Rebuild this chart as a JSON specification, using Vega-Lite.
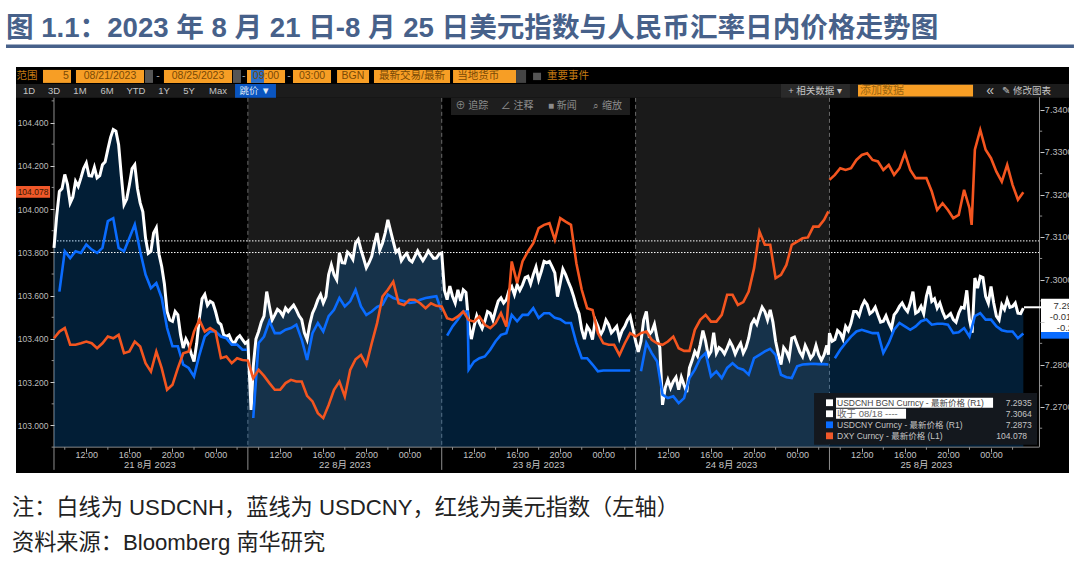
{"$schema":"https://vega.github.io/schema/vega-lite/v6.json","width":1053,"height":406,"autosize":"none","padding":{"left":16,"top":67,"right":11,"bottom":92},"background":"white","config":{"view":{"fill":"#000000","stroke":null},"font":"Liberation Sans, Noto Sans CJK SC","text":{"font":"Liberation Sans, Noto Sans CJK SC"}},"title":{"text":"图 1.1：2023 年 8 月 21 日-8 月 25 日美元指数与人民币汇率日内价格走势图","anchor":"start","frame":"group","dx":-10,"offset":2,"fontSize":27.6,"font":"Liberation Sans, Noto Sans CJK SC","fontWeight":"bold","color":"#47618a"},"data":{"values":[{"k":1}]},"datasets":{"days":[{"start":18,"end":36},{"start":54,"end":72}],"seps":[{"t":18},{"t":36},{"t":54},{"t":72}],"bounds":[{"t":0},{"t":18},{"t":36},{"t":54},{"t":72}],"dates":[{"t":8.9,"label":"21 8月 2023"},{"t":27,"label":"22 8月 2023"},{"t":45,"label":"23 8月 2023"},{"t":62.9,"label":"24 8月 2023"},{"t":81,"label":"25 8月 2023"}],"minorX":[{"t":1},{"t":5},{"t":9},{"t":13},{"t":17},{"t":19},{"t":23},{"t":27},{"t":31},{"t":35},{"t":37},{"t":41},{"t":45},{"t":49},{"t":53},{"t":55},{"t":59},{"t":63},{"t":67},{"t":71},{"t":73},{"t":77},{"t":81},{"t":85},{"t":89}],"minorL":[{"v":102.9},{"v":103.1},{"v":103.3},{"v":103.5},{"v":103.7},{"v":103.9},{"v":104.1},{"v":104.3},{"v":104.5}],"minorR":[{"v":7.265},{"v":7.275},{"v":7.285},{"v":7.295},{"v":7.305},{"v":7.315},{"v":7.325},{"v":7.335}],"rlabels":[{"v":7.34,"label":"7.3400"},{"v":7.33,"label":"7.3300"},{"v":7.32,"label":"7.3200"},{"v":7.31,"label":"7.3100"},{"v":7.3,"label":"7.3000"},{"v":7.28,"label":"7.2800"},{"v":7.27,"label":"7.2700"}],
"cnh":[{"t":0,"v":7.3075},{"t":0.5,"v":7.3208},{"t":1,"v":7.3248},{"t":1.5,"v":7.3181},{"t":2,"v":7.3232},{"t":2.5,"v":7.324},{"t":3,"v":7.3275},{"t":3.5,"v":7.3244},{"t":4,"v":7.324},{"t":4.5,"v":7.3271},{"t":5,"v":7.3307},{"t":5.5,"v":7.3354},{"t":6,"v":7.3318},{"t":6.5,"v":7.3177},{"t":7,"v":7.3224},{"t":7.5,"v":7.3271},{"t":8,"v":7.3181},{"t":8.5,"v":7.3098},{"t":9,"v":7.3067},{"t":9.5,"v":7.3122},{"t":10,"v":7.3031},{"t":10.5,"v":7.2925},{"t":11,"v":7.2902},{"t":11.5,"v":7.2917},{"t":12,"v":7.2839},{"t":12.5,"v":7.2847},{"t":13,"v":7.2807},{"t":13.5,"v":7.291},{"t":14,"v":7.2965},{"t":14.5,"v":7.2949},{"t":15,"v":7.2925},{"t":15.5,"v":7.2894},{"t":16,"v":7.2866},{"t":16.5,"v":7.2855},{"t":17,"v":7.2862},{"t":17.5,"v":7.2859},{"t":18,"v":7.2855},{"t":18.3,"v":7.2693},{"t":18.5,"v":7.2796},{"t":19,"v":7.2878},{"t":19.5,"v":7.2914},{"t":20,"v":7.2937},{"t":20.5,"v":7.2917},{"t":21,"v":7.2925},{"t":21.5,"v":7.2933},{"t":22,"v":7.2933},{"t":22.5,"v":7.2929},{"t":23,"v":7.2906},{"t":23.5,"v":7.2859},{"t":24,"v":7.2921},{"t":24.5,"v":7.2953},{"t":25,"v":7.2945},{"t":25.5,"v":7.3012},{"t":26,"v":7.3012},{"t":26.5,"v":7.3063},{"t":27,"v":7.3039},{"t":27.5,"v":7.3059},{"t":28,"v":7.3086},{"t":28.5,"v":7.3071},{"t":29,"v":7.3028},{"t":29.5,"v":7.3055},{"t":30,"v":7.311},{"t":30.5,"v":7.3086},{"t":31,"v":7.3141},{"t":31.5,"v":7.309},{"t":32,"v":7.3071},{"t":32.5,"v":7.3055},{"t":33,"v":7.3047},{"t":33.5,"v":7.3055},{"t":34,"v":7.3055},{"t":34.5,"v":7.3055},{"t":35,"v":7.3059},{"t":35.5,"v":7.3051},{"t":36,"v":7.3063},{"t":36.5,"v":7.2953},{"t":37,"v":7.2961},{"t":37.5,"v":7.2976},{"t":38,"v":7.2976},{"t":38.5,"v":7.2898},{"t":39,"v":7.289},{"t":39.5,"v":7.2898},{"t":40,"v":7.2902},{"t":40.5,"v":7.2921},{"t":41,"v":7.2929},{"t":41.5,"v":7.2957},{"t":42,"v":7.2953},{"t":42.5,"v":7.2984},{"t":43,"v":7.2988},{"t":43.5,"v":7.2988},{"t":44,"v":7.3008},{"t":44.5,"v":7.3012},{"t":45,"v":7.3},{"t":45.5,"v":7.3043},{"t":46,"v":7.3043},{"t":46.5,"v":7.3016},{"t":47,"v":7.2992},{"t":47.5,"v":7.3012},{"t":48,"v":7.298},{"t":48.5,"v":7.2937},{"t":49,"v":7.2882},{"t":49.5,"v":7.289},{"t":50,"v":7.2859},{"t":50.5,"v":7.289},{"t":51,"v":7.2882},{"t":51.5,"v":7.2894},{"t":52,"v":7.2882},{"t":52.5,"v":7.2862},{"t":53,"v":7.289},{"t":53.5,"v":7.2914},{"t":54,"v":7.2855},{"t":54.5,"v":7.2855},{"t":55,"v":7.2925},{"t":55.5,"v":7.2878},{"t":56,"v":7.2862},{"t":56.5,"v":7.2705},{"t":57,"v":7.2764},{"t":57.5,"v":7.276},{"t":58,"v":7.2741},{"t":58.5,"v":7.2752},{"t":59,"v":7.2792},{"t":59.5,"v":7.2831},{"t":60,"v":7.2847},{"t":60.5,"v":7.2855},{"t":61,"v":7.2831},{"t":61.5,"v":7.2827},{"t":62,"v":7.2835},{"t":62.5,"v":7.2839},{"t":63,"v":7.2843},{"t":63.5,"v":7.2839},{"t":64,"v":7.2827},{"t":64.5,"v":7.2862},{"t":65,"v":7.2906},{"t":65.5,"v":7.2917},{"t":66,"v":7.2925},{"t":66.5,"v":7.2929},{"t":67,"v":7.2855},{"t":67.5,"v":7.28},{"t":68,"v":7.2831},{"t":68.5,"v":7.2862},{"t":69,"v":7.2847},{"t":69.5,"v":7.2819},{"t":70,"v":7.2831},{"t":70.5,"v":7.2823},{"t":71,"v":7.2823},{"t":71.5,"v":7.2823},{"t":71.9,"v":7.2823},{"t":72,"v":7.2874},{"t":72.5,"v":7.2859},{"t":73,"v":7.2874},{"t":73.5,"v":7.289},{"t":74,"v":7.2898},{"t":74.5,"v":7.2925},{"t":75,"v":7.2937},{"t":75.5,"v":7.2941},{"t":76,"v":7.2925},{"t":76.5,"v":7.2917},{"t":77,"v":7.2902},{"t":77.5,"v":7.2898},{"t":78,"v":7.2917},{"t":78.5,"v":7.2937},{"t":79,"v":7.2933},{"t":79.5,"v":7.2945},{"t":80,"v":7.2921},{"t":80.5,"v":7.2937},{"t":81,"v":7.2961},{"t":81.5,"v":7.2949},{"t":82,"v":7.2933},{"t":82.5,"v":7.2925},{"t":83,"v":7.2914},{"t":83.5,"v":7.2906},{"t":84,"v":7.2921},{"t":84.5,"v":7.2933},{"t":85,"v":7.2906},{"t":85.5,"v":7.3004},{"t":86,"v":7.3008},{"t":86.5,"v":7.2961},{"t":87,"v":7.2984},{"t":87.5,"v":7.2914},{"t":88,"v":7.2941},{"t":88.5,"v":7.2953},{"t":89,"v":7.2937},{"t":89.5,"v":7.2921},{"t":90,"v":7.2933},
{"t":0.25,"v":7.315},{"t":0.75,"v":7.3215},{"t":1.25,"v":7.3225},{"t":1.75,"v":7.3195},{"t":2.25,"v":7.322},{"t":2.75,"v":7.3262},{"t":3.25,"v":7.3245},{"t":3.75,"v":7.3265},{"t":4.25,"v":7.3245},{"t":4.75,"v":7.3278},{"t":5.25,"v":7.3335},{"t":5.75,"v":7.335},{"t":6.25,"v":7.3245},{"t":6.75,"v":7.319},{"t":7.25,"v":7.3262},{"t":7.75,"v":7.3215},{"t":8.25,"v":7.316},{"t":8.75,"v":7.3062},{"t":9.25,"v":7.311},{"t":9.75,"v":7.306},{"t":10.25,"v":7.299},{"t":10.75,"v":7.2905},{"t":11.25,"v":7.2925},{"t":11.75,"v":7.287},{"t":12.25,"v":7.286},{"t":12.75,"v":7.2825},{"t":13.25,"v":7.285},{"t":13.75,"v":7.2955},{"t":14.25,"v":7.294},{"t":14.75,"v":7.2945},{"t":15.25,"v":7.29},{"t":15.75,"v":7.287},{"t":16.25,"v":7.287},{"t":16.75,"v":7.285},{"t":17.25,"v":7.2868},{"t":17.75,"v":7.285},{"t":18.75,"v":7.286},{"t":19.25,"v":7.29},{"t":19.75,"v":7.2972},{"t":20.25,"v":7.2905},{"t":20.75,"v":7.293},{"t":21.25,"v":7.2915},{"t":21.75,"v":7.2925},{"t":22.25,"v":7.294},{"t":22.75,"v":7.2915},{"t":23.25,"v":7.2875},{"t":23.75,"v":7.2895},{"t":24.25,"v":7.2935},{"t":24.75,"v":7.2965},{"t":25.25,"v":7.296},{"t":25.75,"v":7.3035},{"t":26.25,"v":7.3},{"t":26.75,"v":7.304},{"t":27.25,"v":7.3065},{"t":27.75,"v":7.3048},{"t":28.25,"v":7.3095},{"t":28.75,"v":7.305},{"t":29.25,"v":7.304},{"t":29.75,"v":7.3085},{"t":30.25,"v":7.307},{"t":30.75,"v":7.311},{"t":31.25,"v":7.3115},{"t":31.75,"v":7.3065},{"t":32.25,"v":7.3045},{"t":32.75,"v":7.3062},{"t":33.25,"v":7.3042},{"t":33.75,"v":7.3068},{"t":34.25,"v":7.3045},{"t":34.75,"v":7.3068},{"t":35.25,"v":7.305},{"t":35.75,"v":7.306},{"t":36.25,"v":7.2975},{"t":36.75,"v":7.2985},{"t":37.25,"v":7.2945},{"t":37.75,"v":7.295},{"t":38.25,"v":7.297},{"t":38.75,"v":7.286},{"t":39.25,"v":7.2915},{"t":39.75,"v":7.2885},{"t":40.25,"v":7.2925},{"t":40.75,"v":7.2905},{"t":41.25,"v":7.295},{"t":41.75,"v":7.2945},{"t":42.25,"v":7.2975},{"t":42.75,"v":7.2965},{"t":43.25,"v":7.2975},{"t":43.75,"v":7.3005},{"t":44.25,"v":7.299},{"t":44.75,"v":7.303},{"t":45.25,"v":7.302},{"t":45.75,"v":7.304},{"t":46.25,"v":7.303},{"t":46.75,"v":7.296},{"t":47.25,"v":7.3025},{"t":47.75,"v":7.2995},{"t":48.25,"v":7.296},{"t":48.75,"v":7.292},{"t":49.25,"v":7.286},{"t":49.75,"v":7.288},{"t":50.25,"v":7.2905},{"t":50.75,"v":7.287},{"t":51.25,"v":7.2905},{"t":51.75,"v":7.2875},{"t":52.25,"v":7.289},{"t":52.75,"v":7.288},{"t":53.25,"v":7.2905},{"t":53.75,"v":7.2885},{"t":54.25,"v":7.283},{"t":54.75,"v":7.2905},{"t":55.25,"v":7.287},{"t":55.75,"v":7.2895},{"t":56.25,"v":7.284},{"t":56.75,"v":7.2745},{"t":57.25,"v":7.2745},{"t":57.75,"v":7.277},{"t":58.25,"v":7.277},{"t":58.75,"v":7.2735},{"t":59.25,"v":7.281},{"t":59.75,"v":7.282},{"t":60.25,"v":7.288},{"t":60.75,"v":7.282},{"t":61.25,"v":7.2875},{"t":61.75,"v":7.284},{"t":62.25,"v":7.2825},{"t":62.75,"v":7.2855},{"t":63.25,"v":7.2825},{"t":63.75,"v":7.285},{"t":64.25,"v":7.284},{"t":64.75,"v":7.2895},{"t":65.25,"v":7.2895},{"t":65.75,"v":7.2935},{"t":66.25,"v":7.2905},{"t":66.75,"v":7.29},{"t":67.25,"v":7.2825},{"t":67.75,"v":7.284},{"t":68.25,"v":7.2815},{"t":68.75,"v":7.2865},{"t":69.25,"v":7.283},{"t":69.75,"v":7.2845},{"t":70.25,"v":7.2815},{"t":70.75,"v":7.2845},{"t":71.25,"v":7.281},{"t":71.75,"v":7.2845},{"t":72.25,"v":7.2855},{"t":72.75,"v":7.288},{"t":73.25,"v":7.286},{"t":73.75,"v":7.288},{"t":74.25,"v":7.2925},{"t":74.75,"v":7.2915},{"t":75.25,"v":7.295},{"t":75.75,"v":7.292},{"t":76.25,"v":7.2935},{"t":76.75,"v":7.29},{"t":77.25,"v":7.2915},{"t":77.75,"v":7.2885},{"t":78.25,"v":7.2925},{"t":78.75,"v":7.2945},{"t":79.25,"v":7.2925},{"t":79.75,"v":7.2972},{"t":80.25,"v":7.2925},{"t":80.75,"v":7.292},{"t":81.25,"v":7.2985},{"t":81.75,"v":7.2955},{"t":82.25,"v":7.2945},{"t":82.75,"v":7.291},{"t":83.25,"v":7.292},{"t":83.75,"v":7.29},{"t":84.25,"v":7.2935},{"t":84.75,"v":7.2975},{"t":85.25,"v":7.2875},{"t":85.75,"v":7.298},{"t":86.25,"v":7.3005},{"t":86.75,"v":7.2945},{"t":87.25,"v":7.2945},{"t":87.75,"v":7.2905},{"t":88.25,"v":7.293},{"t":88.75,"v":7.2935},{"t":89.25,"v":7.2945},{"t":89.75,"v":7.292}],
"cny":[{"t":0.5,"v":7.2972},{"t":1,"v":7.3067},{"t":1.5,"v":7.3051},{"t":2,"v":7.3067},{"t":2.5,"v":7.3063},{"t":3,"v":7.3083},{"t":3.5,"v":7.3071},{"t":4,"v":7.3063},{"t":4.5,"v":7.3075},{"t":5,"v":7.3138},{"t":5.5,"v":7.3145},{"t":6,"v":7.3075},{"t":6.5,"v":7.3067},{"t":7,"v":7.3098},{"t":7.5,"v":7.313},{"t":8,"v":7.3067},{"t":8.5,"v":7.3012},{"t":9,"v":7.298},{"t":9.5,"v":7.2992},{"t":10,"v":7.2957},{"t":10.5,"v":7.2886},{"t":11,"v":7.2843},{"t":11.5,"v":7.2843},{"t":12,"v":7.28},{"t":12.5,"v":7.2792},{"t":13,"v":7.2772},{"t":13.5,"v":7.2823},{"t":14,"v":7.2866},{"t":14.5,"v":7.2878},{"t":15,"v":7.2878},{"t":15.5,"v":7.2866},{"t":16,"v":7.2862},{"t":16.5,"v":7.2847},{"t":17,"v":7.2847},{"t":17.5,"v":7.2835},{"t":17.9,"v":7.2835},{"t":18,"v":null},{"t":18.5,"v":7.2674},{"t":19,"v":7.2851},{"t":19.5,"v":7.2866},{"t":20,"v":7.2902},{"t":20.5,"v":7.2874},{"t":21,"v":7.2874},{"t":21.5,"v":7.2882},{"t":22,"v":7.2886},{"t":22.5,"v":7.2894},{"t":23,"v":7.2859},{"t":23.5,"v":7.2811},{"t":24,"v":7.2874},{"t":24.5,"v":7.2898},{"t":25,"v":7.2878},{"t":25.5,"v":7.2914},{"t":26,"v":7.2929},{"t":26.5,"v":7.2957},{"t":27,"v":7.2937},{"t":27.5,"v":7.2949},{"t":28,"v":7.2976},{"t":28.5,"v":7.2937},{"t":29,"v":7.2917},{"t":29.5,"v":7.2925},{"t":30,"v":7.2936},{"t":30.5,"v":7.2941},{"t":31,"v":7.2965},{"t":31.5,"v":7.2957},{"t":32,"v":7.2953},{"t":32.5,"v":7.2949},{"t":33,"v":7.2945},{"t":33.5,"v":7.2947},{"t":34,"v":7.2953},{"t":34.5,"v":7.2957},{"t":35,"v":7.2959},{"t":35.5,"v":7.2961},{"t":35.95,"v":7.2929},{"t":36,"v":null},{"t":36.5,"v":7.2868},{"t":37,"v":7.289},{"t":37.5,"v":7.2906},{"t":38,"v":7.2925},{"t":38.4,"v":7.2925},{"t":38.5,"v":7.2788},{"t":39,"v":7.2807},{"t":39.5,"v":7.2815},{"t":40,"v":7.2819},{"t":40.5,"v":7.2835},{"t":41,"v":7.2855},{"t":41.5,"v":7.287},{"t":42,"v":7.2874},{"t":42.5,"v":7.2917},{"t":43,"v":7.2902},{"t":43.5,"v":7.2917},{"t":44,"v":7.2917},{"t":44.5,"v":7.2933},{"t":45,"v":7.291},{"t":45.5,"v":7.2921},{"t":46,"v":7.2921},{"t":46.5,"v":7.291},{"t":47,"v":7.2907},{"t":47.5,"v":7.2898},{"t":48,"v":7.2898},{"t":48.5,"v":7.2851},{"t":49,"v":7.2815},{"t":49.5,"v":7.2815},{"t":50,"v":7.28},{"t":50.5,"v":7.2784},{"t":51,"v":7.2786},{"t":51.5,"v":7.2786},{"t":52,"v":7.2786},{"t":52.5,"v":7.2786},{"t":53,"v":7.2786},{"t":53.5,"v":7.2786},{"t":54,"v":null},{"t":54.5,"v":7.2784},{"t":55,"v":7.2851},{"t":55.5,"v":7.2827},{"t":56,"v":7.2807},{"t":56.5,"v":7.2729},{"t":57,"v":7.2721},{"t":57.5,"v":7.2725},{"t":58,"v":7.2709},{"t":58.5,"v":7.2721},{"t":59,"v":7.2768},{"t":59.5,"v":7.2788},{"t":60,"v":7.2815},{"t":60.5,"v":7.2827},{"t":61,"v":7.2772},{"t":61.5,"v":7.2784},{"t":62,"v":7.2768},{"t":62.5,"v":7.2792},{"t":63,"v":7.2803},{"t":63.5,"v":7.2792},{"t":64,"v":7.2788},{"t":64.5,"v":7.2776},{"t":65,"v":7.2815},{"t":65.5,"v":7.2823},{"t":66,"v":7.2831},{"t":66.5,"v":7.2837},{"t":67,"v":7.2823},{"t":67.5,"v":7.2776},{"t":68,"v":7.277},{"t":68.5,"v":7.2768},{"t":69,"v":7.2796},{"t":69.5,"v":7.28},{"t":70,"v":7.2801},{"t":70.5,"v":7.2802},{"t":71,"v":7.2801},{"t":71.5,"v":7.2801},{"t":71.9,"v":7.28},{"t":72,"v":null},{"t":72.5,"v":7.2815},{"t":73,"v":7.2835},{"t":73.5,"v":7.2851},{"t":74,"v":7.2866},{"t":74.5,"v":7.2878},{"t":75,"v":7.2882},{"t":75.5,"v":7.2878},{"t":76,"v":7.2874},{"t":76.5,"v":7.2874},{"t":77,"v":7.2827},{"t":77.5,"v":7.2851},{"t":78,"v":7.2882},{"t":78.5,"v":7.2898},{"t":79,"v":7.289},{"t":79.5,"v":7.2882},{"t":80,"v":7.289},{"t":80.5,"v":7.2902},{"t":81,"v":7.2906},{"t":81.5,"v":7.2894},{"t":82,"v":7.2896},{"t":82.5,"v":7.2896},{"t":83,"v":7.2894},{"t":83.5,"v":7.2874},{"t":84,"v":7.2876},{"t":84.5,"v":7.2886},{"t":85,"v":7.2866},{"t":85.5,"v":7.2914},{"t":86,"v":7.2921},{"t":86.5,"v":7.2906},{"t":87,"v":7.2906},{"t":87.5,"v":7.289},{"t":88,"v":7.2881},{"t":88.5,"v":7.2878},{"t":89,"v":7.2878},{"t":89.5,"v":7.2862},{"t":90,"v":7.2873}],
"dxy":[{"t":0,"v":103.403},{"t":0.5,"v":103.434},{"t":1,"v":103.45},{"t":1.5,"v":103.373},{"t":2,"v":103.373},{"t":2.5,"v":103.38},{"t":3,"v":103.388},{"t":3.5,"v":103.38},{"t":4,"v":103.357},{"t":4.5,"v":103.38},{"t":5,"v":103.411},{"t":5.5,"v":103.403},{"t":6,"v":103.419},{"t":6.5,"v":103.334},{"t":7,"v":103.342},{"t":7.5,"v":103.388},{"t":8,"v":103.365},{"t":8.5,"v":103.288},{"t":9,"v":103.249},{"t":9.5,"v":103.342},{"t":10,"v":103.265},{"t":10.5,"v":103.165},{"t":11,"v":103.188},{"t":11.5,"v":103.265},{"t":12,"v":103.334},{"t":12.5,"v":103.342},{"t":13,"v":103.434},{"t":13.5,"v":103.488},{"t":14,"v":103.434},{"t":14.5,"v":103.45},{"t":15,"v":103.434},{"t":15.5,"v":103.311},{"t":16,"v":103.319},{"t":16.5,"v":103.288},{"t":17,"v":103.311},{"t":17.5,"v":103.303},{"t":18,"v":103.3},{"t":18.5,"v":103.219},{"t":19,"v":103.257},{"t":19.5,"v":103.229},{"t":20,"v":103.196},{"t":20.5,"v":103.165},{"t":21,"v":103.165},{"t":21.5,"v":103.196},{"t":22,"v":103.211},{"t":22.5,"v":103.203},{"t":23,"v":103.203},{"t":23.5,"v":103.137},{"t":24,"v":103.111},{"t":24.5,"v":103.057},{"t":25,"v":103.034},{"t":25.5,"v":103.095},{"t":26,"v":103.165},{"t":26.5,"v":103.203},{"t":27,"v":103.134},{"t":27.5,"v":103.257},{"t":28,"v":103.306},{"t":28.5,"v":103.326},{"t":29,"v":103.28},{"t":29.5,"v":103.38},{"t":30,"v":103.473},{"t":30.5,"v":103.596},{"t":31,"v":103.627},{"t":31.5,"v":103.665},{"t":32,"v":103.565},{"t":32.5,"v":103.557},{"t":33,"v":103.581},{"t":33.5,"v":103.581},{"t":34,"v":103.565},{"t":34.5,"v":103.542},{"t":35,"v":103.565},{"t":35.5,"v":103.553},{"t":36,"v":103.55},{"t":36.5,"v":103.496},{"t":37,"v":103.488},{"t":37.5,"v":103.504},{"t":38,"v":103.527},{"t":38.5,"v":103.488},{"t":39,"v":103.48},{"t":39.5,"v":103.504},{"t":40,"v":103.465},{"t":40.5,"v":103.45},{"t":41,"v":103.473},{"t":41.5,"v":103.519},{"t":42,"v":103.457},{"t":42.5,"v":103.758},{"t":43,"v":103.658},{"t":43.5,"v":103.758},{"t":44,"v":103.804},{"t":44.5,"v":103.842},{"t":45,"v":103.912},{"t":45.5,"v":103.927},{"t":46,"v":103.935},{"t":46.5,"v":103.858},{"t":47,"v":103.958},{"t":47.5,"v":103.942},{"t":48,"v":103.927},{"t":48.5,"v":103.75},{"t":49,"v":103.627},{"t":49.5,"v":103.542},{"t":50,"v":103.534},{"t":50.5,"v":103.427},{"t":51,"v":103.38},{"t":51.5,"v":103.373},{"t":52,"v":103.373},{"t":52.5,"v":103.326},{"t":53,"v":103.38},{"t":53.5,"v":103.427},{"t":54,"v":103.411},{"t":54.5,"v":103.427},{"t":55,"v":103.434},{"t":55.5,"v":103.396},{"t":56,"v":103.38},{"t":56.5,"v":103.373},{"t":57,"v":103.388},{"t":57.5,"v":103.411},{"t":58,"v":103.357},{"t":58.5,"v":103.345},{"t":59,"v":103.345},{"t":59.5,"v":103.442},{"t":60,"v":103.488},{"t":60.5,"v":103.511},{"t":61,"v":103.48},{"t":61.5,"v":103.48},{"t":62,"v":103.511},{"t":62.5,"v":103.604},{"t":63,"v":103.604},{"t":63.5,"v":103.557},{"t":64,"v":103.57},{"t":64.5,"v":103.619},{"t":65,"v":103.727},{"t":65.5,"v":103.896},{"t":66,"v":103.835},{"t":66.5,"v":103.835},{"t":67,"v":103.681},{"t":67.5,"v":103.696},{"t":68,"v":103.742},{"t":68.5,"v":103.835},{"t":69,"v":103.85},{"t":69.5,"v":103.865},{"t":70,"v":103.869},{"t":70.5,"v":103.919},{"t":71,"v":103.919},{"t":71.5,"v":103.95},{"t":71.9,"v":103.989},{"t":71.95,"v":null},{"t":72,"v":104.135},{"t":72.5,"v":104.158},{"t":73,"v":104.189},{"t":73.5,"v":104.181},{"t":74,"v":104.189},{"t":74.5,"v":104.227},{"t":75,"v":104.25},{"t":75.5,"v":104.258},{"t":76,"v":104.227},{"t":76.5,"v":104.22},{"t":77,"v":104.181},{"t":77.5,"v":104.204},{"t":78,"v":104.158},{"t":78.5,"v":104.189},{"t":79,"v":104.258},{"t":79.5,"v":104.181},{"t":80,"v":104.143},{"t":80.5,"v":104.143},{"t":81,"v":104.143},{"t":81.5,"v":104.081},{"t":82,"v":103.996},{"t":82.5,"v":104.027},{"t":83,"v":103.996},{"t":83.5,"v":103.958},{"t":84,"v":103.973},{"t":84.5,"v":104.089},{"t":85,"v":104.004},{"t":85.2,"v":103.927},{"t":85.5,"v":104.274},{"t":86,"v":104.366},{"t":86.5,"v":104.274},{"t":87,"v":104.235},{"t":87.5,"v":104.173},{"t":88,"v":104.127},{"t":88.5,"v":104.204},{"t":89,"v":104.112},{"t":89.5,"v":104.043},{"t":90,"v":104.078}]},
"resolve":{"scale":{"y":"independent"},"axis":{"y":"independent","x":"independent"}},
"layer":[
{"data":{"name":"days"},"mark":{"type":"rect","fill":"#1a1a1a"},"encoding":{"x":{"field":"start","type":"quantitative","scale":{"domain":[-3.528,94.24],"nice":false,"zero":false},"axis":{"zindex":1,"orient":"bottom","values":[3,7,11,15,21,25,29,33,39,43,47,51,57,61,65,69,75,79,83,87],"labelExpr":"((9+datum.value%18)%24)<10?'00:00':((9+datum.value%18)%24)+':00'","domain":false,"grid":false,"title":null,"offset":-25,"tickColor":"#aaaaaa","tickSize":4,"labelColor":"#c4c4c4","labelFontSize":9,"labelFont":"Liberation Sans","labelPadding":-2,"labelOverlap":false}},"x2":{"field":"end"},"y":{"datum":104.514,"type":"quantitative","scale":{"domain":[102.7805,104.6565],"nice":false,"zero":false},"axis":{"zindex":1,"orient":"left","offset":-38,"values":[103,103.2,103.4,103.6,103.8,104,104.2,104.4],"format":".3f","domain":false,"grid":false,"title":null,"tickColor":"#cccccc","tickSize":4,"labelColor":"#bdbdbd","labelFontSize":8.5,"labelFont":"Liberation Sans","labelPadding":2}},"y2":{"datum":102.9}}},
{"layer":[
{"data":{"name":"seps"},"mark":{"type":"rule","color":"#6a6a6a","strokeDash":[4,3],"strokeWidth":1},"encoding":{"x":{"field":"t","type":"quantitative","axis":null},"y":{"datum":104.514,"axis":null,"scale":{"domain":[102.7805,104.6565],"nice":false,"zero":false}},"y2":{"datum":102.9}}},
{"mark":{"type":"rule","color":"#8f8f8f"},"encoding":{"x":{"datum":0,"axis":null},"y":{"datum":104.518,"axis":null},"y2":{"datum":102.9}}},
{"mark":{"type":"rule","color":"#8f8f8f"},"encoding":{"x":{"datum":0,"axis":null},"x2":{"datum":91.5},"y":{"datum":102.9,"axis":null}}},
{"data":{"name":"bounds"},"mark":{"type":"rule","color":"#8f8f8f"},"encoding":{"x":{"field":"t","type":"quantitative","axis":null},"y":{"datum":102.9,"axis":null},"y2":{"datum":102.795}}},
{"data":{"name":"minorX"},"mark":{"type":"rule","color":"#8f8f8f"},"encoding":{"x":{"field":"t","type":"quantitative","axis":null},"y":{"datum":102.9,"axis":null},"y2":{"datum":102.888}}},
{"data":{"name":"minorL"},"mark":{"type":"rule","color":"#8f8f8f"},"encoding":{"x":{"datum":-0.22,"axis":null},"x2":{"datum":0},"y":{"field":"v","type":"quantitative","axis":null}}},
{"data":{"name":"dates"},"mark":{"type":"text","color":"#c4c4c4","fontSize":9.5,"baseline":"middle"},"encoding":{"x":{"field":"t","type":"quantitative","axis":null},"y":{"datum":102.816,"axis":null},"text":{"field":"label"}}},
{"mark":{"type":"rule","color":"#ffffff","strokeDash":[1.5,1.5],"strokeWidth":1},"encoding":{"x":{"datum":0,"axis":null},"x2":{"datum":91.5},"y":{"datum":103.853,"axis":null}}},
{"mark":{"type":"rule","color":"#47618a","strokeWidth":3.5},"encoding":{"x":{"datum":-4.457,"axis":null},"x2":{"datum":94.7},"y":{"datum":104.752,"axis":null}}},
{"mark":{"type":"text","text":"注：白线为 USDCNH，蓝线为 USDCNY，红线为美元指数（左轴）","align":"left","baseline":"middle","fontSize":22.2,"color":"#222222"},"encoding":{"x":{"datum":-3.9,"axis":null},"y":{"datum":102.62,"axis":null}}},
{"mark":{"type":"text","text":"资料来源：Bloomberg   南华研究","align":"left","baseline":"middle","fontSize":22.2,"color":"#222222"},"encoding":{"x":{"datum":-3.9,"axis":null},"y":{"datum":102.458,"axis":null}}},
{"mark":{"type":"rect","fill":"#1c1c1c"},"encoding":{"x":{"datum":-3.528,"axis":null},"x2":{"datum":94.24},"y":{"datum":104.578,"axis":null},"y2":{"datum":104.514}}},
{"mark":{"type":"rect","fill":"#1e1e1e"},"encoding":{"x":{"datum":36.86,"axis":null},"x2":{"datum":53.48},"y":{"datum":104.514,"axis":null},"y2":{"datum":104.435}}},
{"mark":{"type":"rect","fill":"#f79e25"},"encoding":{"x":{"datum":-1.02,"axis":null},"x2":{"datum":1.58},"y":{"datum":104.643,"axis":null},"y2":{"datum":104.583}}},
{"mark":{"type":"rect","fill":"#f79e25"},"encoding":{"x":{"datum":2.04,"axis":null},"x2":{"datum":8.36},"y":{"datum":104.643,"axis":null},"y2":{"datum":104.583}}},
{"mark":{"type":"rect","fill":"#555555"},"encoding":{"x":{"datum":8.45,"axis":null},"x2":{"datum":9.19},"y":{"datum":104.643,"axis":null},"y2":{"datum":104.583}}},
{"mark":{"type":"rect","fill":"#f79e25"},"encoding":{"x":{"datum":10.21,"axis":null},"x2":{"datum":16.53},"y":{"datum":104.643,"axis":null},"y2":{"datum":104.583}}},
{"mark":{"type":"rect","fill":"#555555"},"encoding":{"x":{"datum":16.62,"axis":null},"x2":{"datum":17.36},"y":{"datum":104.643,"axis":null},"y2":{"datum":104.583}}},
{"mark":{"type":"rect","fill":"#f79e25"},"encoding":{"x":{"datum":17.92,"axis":null},"x2":{"datum":21.45},"y":{"datum":104.643,"axis":null},"y2":{"datum":104.583}}},
{"mark":{"type":"rect","fill":"#2a6fc9"},"encoding":{"x":{"datum":18.29,"axis":null},"x2":{"datum":19.5},"y":{"datum":104.643,"axis":null},"y2":{"datum":104.583}}},
{"mark":{"type":"rect","fill":"#f79e25"},"encoding":{"x":{"datum":22.19,"axis":null},"x2":{"datum":25.72},"y":{"datum":104.643,"axis":null},"y2":{"datum":104.583}}},
{"mark":{"type":"rect","fill":"#f79e25"},"encoding":{"x":{"datum":26.28,"axis":null},"x2":{"datum":29.25},"y":{"datum":104.643,"axis":null},"y2":{"datum":104.583}}},
{"mark":{"type":"rect","fill":"#f79e25"},"encoding":{"x":{"datum":29.71,"axis":null},"x2":{"datum":36.77},"y":{"datum":104.643,"axis":null},"y2":{"datum":104.583}}},
{"mark":{"type":"rect","fill":"#f79e25"},"encoding":{"x":{"datum":37.05,"axis":null},"x2":{"datum":42.9},"y":{"datum":104.643,"axis":null},"y2":{"datum":104.583}}},
{"mark":{"type":"rect","fill":"#444444"},"encoding":{"x":{"datum":42.9,"axis":null},"x2":{"datum":43.83},"y":{"datum":104.643,"axis":null},"y2":{"datum":104.583}}},
{"mark":{"type":"rect","fill":"#555555"},"encoding":{"x":{"datum":44.48,"axis":null},"x2":{"datum":45.22},"y":{"datum":104.63,"axis":null},"y2":{"datum":104.596}}},
{"mark":{"type":"rect","fill":"#0a55c0"},"encoding":{"x":{"datum":16.81,"axis":null},"x2":{"datum":20.61},"y":{"datum":104.578,"axis":null},"y2":{"datum":104.514}}},
{"mark":{"type":"rect","fill":"#2a2a2a"},"encoding":{"x":{"datum":67.5,"axis":null},"x2":{"datum":73.9},"y":{"datum":104.578,"axis":null},"y2":{"datum":104.514}}},
{"mark":{"type":"rect","fill":"#f79e25"},"encoding":{"x":{"datum":74.65,"axis":null},"x2":{"datum":85.33},"y":{"datum":104.574,"axis":null},"y2":{"datum":104.52}}},
{"mark":{"type":"rect","fill":"#f0582a"},"encoding":{"x":{"datum":-3.528,"axis":null},"x2":{"datum":-0.37},"y":{"datum":104.107,"axis":null},"y2":{"datum":104.052}}},
{"mark":{"type":"text","text":"104.078","color":"#3a1a00","fontSize":8.5,"baseline":"middle"},"encoding":{"x":{"datum":-1.95,"axis":null},"y":{"datum":104.08,"axis":null}}},
{"mark":{"type":"text","text":"范围","color":"#c47a12","fontSize":10.5,"baseline":"middle"},"encoding":{"x":{"datum":-2.51,"axis":null},"y":{"datum":104.613,"axis":null}}},
{"mark":{"type":"text","text":"5","color":"#7a4a05","fontSize":10.5,"baseline":"middle"},"encoding":{"x":{"datum":1.11,"axis":null},"y":{"datum":104.613,"axis":null}}},
{"mark":{"type":"text","text":"08/21/2023","color":"#7a4a05","fontSize":10.5,"baseline":"middle"},"encoding":{"x":{"datum":5.2,"axis":null},"y":{"datum":104.613,"axis":null}}},
{"mark":{"type":"text","text":"-","color":"#aaaaaa","fontSize":10.5,"baseline":"middle"},"encoding":{"x":{"datum":9.66,"axis":null},"y":{"datum":104.613,"axis":null}}},
{"mark":{"type":"text","text":"08/25/2023","color":"#7a4a05","fontSize":10.5,"baseline":"middle"},"encoding":{"x":{"datum":13.37,"axis":null},"y":{"datum":104.613,"axis":null}}},
{"mark":{"type":"text","text":"-","color":"#aaaaaa","fontSize":10.5,"baseline":"middle"},"encoding":{"x":{"datum":17.62,"axis":null},"y":{"datum":104.613,"axis":null}}},
{"mark":{"type":"text","text":"09:00","color":"#7a4a05","fontSize":10.5,"baseline":"middle"},"encoding":{"x":{"datum":19.68,"axis":null},"y":{"datum":104.613,"axis":null}}},
{"mark":{"type":"text","text":"-","color":"#aaaaaa","fontSize":10.5,"baseline":"middle"},"encoding":{"x":{"datum":21.82,"axis":null},"y":{"datum":104.613,"axis":null}}},
{"mark":{"type":"text","text":"03:00","color":"#7a4a05","fontSize":10.5,"baseline":"middle"},"encoding":{"x":{"datum":23.96,"axis":null},"y":{"datum":104.613,"axis":null}}},
{"mark":{"type":"text","text":"BGN","color":"#7a4a05","fontSize":10.5,"baseline":"middle"},"encoding":{"x":{"datum":27.76,"axis":null},"y":{"datum":104.613,"axis":null}}},
{"mark":{"type":"text","text":"最新交易/最新","color":"#7a4a05","fontSize":10.5,"baseline":"middle"},"encoding":{"x":{"datum":33.24,"axis":null},"y":{"datum":104.613,"axis":null}}},
{"mark":{"type":"text","text":"当地货币","color":"#7a4a05","fontSize":10.5,"baseline":"middle"},"encoding":{"x":{"datum":39.4,"axis":null},"y":{"datum":104.613,"axis":null}}},
{"mark":{"type":"text","text":"重要事件","color":"#c47a12","fontSize":10.5,"baseline":"middle"},"encoding":{"x":{"datum":47.73,"axis":null},"y":{"datum":104.613,"axis":null}}},
{"mark":{"type":"text","text":"1D","color":"#c4c4c4","fontSize":9.5,"baseline":"middle"},"encoding":{"x":{"datum":-2.32,"axis":null},"y":{"datum":104.546,"axis":null}}},
{"mark":{"type":"text","text":"3D","color":"#c4c4c4","fontSize":9.5,"baseline":"middle"},"encoding":{"x":{"datum":0,"axis":null},"y":{"datum":104.546,"axis":null}}},
{"mark":{"type":"text","text":"1M","color":"#c4c4c4","fontSize":9.5,"baseline":"middle"},"encoding":{"x":{"datum":2.41,"axis":null},"y":{"datum":104.546,"axis":null}}},
{"mark":{"type":"text","text":"6M","color":"#c4c4c4","fontSize":9.5,"baseline":"middle"},"encoding":{"x":{"datum":4.92,"axis":null},"y":{"datum":104.546,"axis":null}}},
{"mark":{"type":"text","text":"YTD","color":"#c4c4c4","fontSize":9.5,"baseline":"middle"},"encoding":{"x":{"datum":7.61,"axis":null},"y":{"datum":104.546,"axis":null}}},
{"mark":{"type":"text","text":"1Y","color":"#c4c4c4","fontSize":9.5,"baseline":"middle"},"encoding":{"x":{"datum":10.21,"axis":null},"y":{"datum":104.546,"axis":null}}},
{"mark":{"type":"text","text":"5Y","color":"#c4c4c4","fontSize":9.5,"baseline":"middle"},"encoding":{"x":{"datum":12.53,"axis":null},"y":{"datum":104.546,"axis":null}}},
{"mark":{"type":"text","text":"Max","color":"#c4c4c4","fontSize":9.5,"baseline":"middle"},"encoding":{"x":{"datum":15.23,"axis":null},"y":{"datum":104.546,"axis":null}}},
{"mark":{"type":"text","text":"跳价 ▼","color":"#dfe8f5","fontSize":9.5,"baseline":"middle"},"encoding":{"x":{"datum":18.66,"axis":null},"y":{"datum":104.546,"axis":null}}},
{"mark":{"type":"text","text":"+ 相关数据  ▾","color":"#c4c4c4","fontSize":9.5,"baseline":"middle"},"encoding":{"x":{"datum":70.66,"axis":null},"y":{"datum":104.546,"axis":null}}},
{"mark":{"type":"text","text":"添加数据","color":"#9a6510","fontSize":11,"baseline":"middle"},"encoding":{"x":{"datum":76.88,"axis":null},"y":{"datum":104.546,"axis":null}}},
{"mark":{"type":"text","text":"«","color":"#c4c4c4","fontSize":14,"baseline":"middle"},"encoding":{"x":{"datum":86.91,"axis":null},"y":{"datum":104.546,"axis":null}}},
{"mark":{"type":"text","text":"✎ 修改图表","color":"#c4c4c4","fontSize":9.5,"baseline":"middle"},"encoding":{"x":{"datum":90.3,"axis":null},"y":{"datum":104.546,"axis":null}}},
{"mark":{"type":"text","text":"⊕ 追踪","color":"#8c8c8c","fontSize":10,"baseline":"middle"},"encoding":{"x":{"datum":38.8,"axis":null},"y":{"datum":104.477,"axis":null}}},
{"mark":{"type":"text","text":"∠ 注释","color":"#8c8c8c","fontSize":10,"baseline":"middle"},"encoding":{"x":{"datum":43.0,"axis":null},"y":{"datum":104.477,"axis":null}}},
{"mark":{"type":"text","text":"■ 新闻","color":"#8c8c8c","fontSize":10,"baseline":"middle"},"encoding":{"x":{"datum":47.2,"axis":null},"y":{"datum":104.477,"axis":null}}},
{"mark":{"type":"text","text":"⌕ 缩放","color":"#8c8c8c","fontSize":10,"baseline":"middle"},"encoding":{"x":{"datum":51.4,"axis":null},"y":{"datum":104.477,"axis":null}}}
]},
{"data":{"name":"cnh"},"mark":{"type":"area","fill":"#0a8cff","opacity":0.21},"encoding":{"x":{"field":"t","type":"quantitative","axis":null},"y":{"field":"v","type":"quantitative","scale":{"domain":[7.25444,7.35013],"nice":false,"zero":false},"axis":{"zindex":1,"orient":"right","offset":-29,"values":[7.27,7.28,7.29,7.3,7.31,7.32,7.33,7.34],"domain":false,"labels":false,"grid":false,"title":null,"tickColor":"#cccccc","tickSize":4}},"y2":{"datum":7.2606}}},
{"layer":[
{"mark":{"type":"rule","color":"#ffffff","strokeDash":[1.5,1.5],"strokeWidth":1},"encoding":{"x":{"datum":0,"axis":null},"x2":{"datum":91.5},"y":{"datum":7.3064,"axis":null,"scale":{"domain":[7.25444,7.35013],"nice":false,"zero":false}}}},
{"data":{"name":"cnh"},"mark":{"type":"line","color":"#ffffff","strokeWidth":3},"encoding":{"x":{"field":"t","type":"quantitative","axis":null},"y":{"field":"v","type":"quantitative","axis":null}}},
{"data":{"name":"cny"},"mark":{"type":"line","color":"#0a6cff","strokeWidth":2.6},"encoding":{"x":{"field":"t","type":"quantitative","axis":null},"y":{"field":"v","type":"quantitative","axis":null}}},
{"mark":{"type":"rule","color":"#8f8f8f"},"encoding":{"x":{"datum":91.5,"axis":null},"y":{"datum":7.343,"axis":null},"y2":{"datum":7.2606}}},
{"data":{"name":"minorR"},"mark":{"type":"rule","color":"#8f8f8f"},"encoding":{"x":{"datum":91.5,"axis":null},"x2":{"datum":91.75},"y":{"field":"v","type":"quantitative","axis":null}}},
{"data":{"name":"rlabels"},"mark":{"type":"text","align":"left","baseline":"middle","color":"#bdbdbd","fontSize":9,"clip":true},"encoding":{"x":{"datum":92.0,"axis":null},"y":{"field":"v","type":"quantitative","axis":null},"text":{"field":"label"}}},
{"mark":{"type":"rule","color":"#ffffff","strokeWidth":2},"encoding":{"x":{"datum":90.06,"axis":null},"x2":{"datum":91.64},"y":{"datum":7.2935,"axis":null}}},
{"mark":{"type":"rect","fill":"#0a6cff"},"encoding":{"x":{"datum":91.64,"axis":null},"x2":{"datum":94.24},"y":{"datum":7.2877,"axis":null},"y2":{"datum":7.2861}}},
{"mark":{"type":"rect","fill":"#ffffff"},"encoding":{"x":{"datum":91.64,"axis":null},"x2":{"datum":94.24},"y":{"datum":7.2955,"axis":null},"y2":{"datum":7.2877}}},
{"mark":{"type":"text","text":"7.293","align":"left","baseline":"middle","color":"#333333","fontSize":9.5,"clip":true},"encoding":{"x":{"datum":92.8,"axis":null},"y":{"datum":7.2937,"axis":null}}},
{"mark":{"type":"text","text":"-0.015","align":"left","baseline":"middle","color":"#333333","fontSize":9.5,"clip":true},"encoding":{"x":{"datum":92.45,"axis":null},"y":{"datum":7.2913,"axis":null}}},
{"mark":{"type":"text","text":"-0.21","align":"left","baseline":"middle","color":"#333333","fontSize":9.5,"clip":true},"encoding":{"x":{"datum":93.1,"axis":null},"y":{"datum":7.2887,"axis":null}}},
{"mark":{"type":"rect","fill":"#14181e"},"encoding":{"x":{"datum":70.57,"axis":null},"x2":{"datum":91.27},"y":{"datum":7.2733,"axis":null},"y2":{"datum":7.2611}}},
{"mark":{"type":"rect","fill":"#ffffff"},"encoding":{"x":{"datum":72.61,"axis":null},"x2":{"datum":87.19},"y":{"datum":7.2722,"axis":null},"y2":{"datum":7.2698}}},
{"mark":{"type":"rect","fill":"#ffffff"},"encoding":{"x":{"datum":72.61,"axis":null},"x2":{"datum":79.11},"y":{"datum":7.2696,"axis":null},"y2":{"datum":7.2672}}},
{"mark":{"type":"rect","fill":"#ffffff"},"encoding":{"x":{"datum":71.68,"axis":null},"x2":{"datum":72.33},"y":{"datum":7.2718,"axis":null},"y2":{"datum":7.2702}}},
{"mark":{"type":"rect","fill":"#ffffff"},"encoding":{"x":{"datum":71.68,"axis":null},"x2":{"datum":72.33},"y":{"datum":7.2692,"axis":null},"y2":{"datum":7.2676}}},
{"mark":{"type":"rect","fill":"#0a6cff"},"encoding":{"x":{"datum":71.68,"axis":null},"x2":{"datum":72.33},"y":{"datum":7.2666,"axis":null},"y2":{"datum":7.265}}},
{"mark":{"type":"rect","fill":"#f0582a"},"encoding":{"x":{"datum":71.68,"axis":null},"x2":{"datum":72.33},"y":{"datum":7.264,"axis":null},"y2":{"datum":7.2624}}},
{"mark":{"type":"text","text":"USDCNH BGN Curncy - 最新价格 (R1)","align":"left","baseline":"middle","color":"#444444","fontSize":8.5},"encoding":{"x":{"datum":72.7,"axis":null},"y":{"datum":7.271,"axis":null}}},
{"mark":{"type":"text","text":"收于 08/18 ----","align":"left","baseline":"middle","color":"#666666","fontSize":9.5},"encoding":{"x":{"datum":72.7,"axis":null},"y":{"datum":7.2684,"axis":null}}},
{"mark":{"type":"text","text":"USDCNY Curncy - 最新价格 (R1)","align":"left","baseline":"middle","color":"#c4c4c4","fontSize":8.5},"encoding":{"x":{"datum":72.7,"axis":null},"y":{"datum":7.2658,"axis":null}}},
{"mark":{"type":"text","text":"DXY Curncy - 最新价格 (L1)","align":"left","baseline":"middle","color":"#c4c4c4","fontSize":8.5},"encoding":{"x":{"datum":72.7,"axis":null},"y":{"datum":7.2632,"axis":null}}},
{"mark":{"type":"text","text":"7.2935","align":"right","baseline":"middle","color":"#c4c4c4","fontSize":8.5},"encoding":{"x":{"datum":90.78,"axis":null},"y":{"datum":7.271,"axis":null}}},
{"mark":{"type":"text","text":"7.3064","align":"right","baseline":"middle","color":"#c4c4c4","fontSize":8.5},"encoding":{"x":{"datum":90.78,"axis":null},"y":{"datum":7.2684,"axis":null}}},
{"mark":{"type":"text","text":"7.2873","align":"right","baseline":"middle","color":"#c4c4c4","fontSize":8.5},"encoding":{"x":{"datum":90.78,"axis":null},"y":{"datum":7.2658,"axis":null}}},
{"mark":{"type":"text","text":"104.078","align":"right","baseline":"middle","color":"#c4c4c4","fontSize":8.5},"encoding":{"x":{"datum":90.35,"axis":null},"y":{"datum":7.2632,"axis":null}}}
]},
{"data":{"name":"dxy"},"mark":{"type":"line","color":"#f4551f","strokeWidth":2.6},"encoding":{"x":{"field":"t","type":"quantitative","axis":null},"y":{"field":"v","type":"quantitative","scale":{"domain":[102.7805,104.6565],"nice":false,"zero":false},"axis":null}}}
]}
